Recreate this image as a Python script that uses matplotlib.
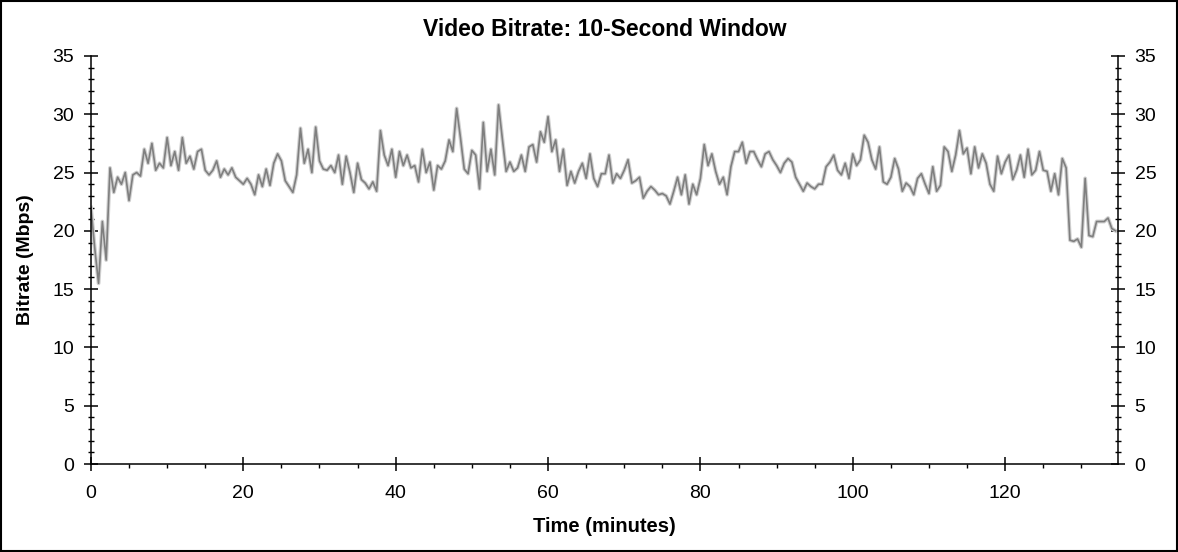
import numpy as np
import matplotlib.pyplot as plt
from matplotlib.patches import Rectangle
from matplotlib.ticker import MultipleLocator

plt.rcParams['font.family'] = ['Liberation Sans', 'DejaVu Sans']

# bitrate in Mbps, one reading every half minute
STEP_MIN = 0.5
bitrate = [
    22.0, 18.5, 15.5, 20.8, 17.5, 25.4, 23.3, 24.6, 24.0, 25.0,
    22.6, 24.8, 25.0, 24.7, 27.0, 25.8, 27.5, 25.2, 25.8, 25.4,
    28.0, 25.6, 26.8, 25.2, 28.0, 25.8, 26.4, 25.3, 26.8, 27.0,
    25.2, 24.8, 25.2, 26.0, 24.6, 25.3, 24.8, 25.4, 24.6, 24.3,
    24.0, 24.5, 24.0, 23.1, 24.8, 23.8, 25.3, 23.9, 25.8, 26.6,
    26.0, 24.3, 23.8, 23.3, 24.8, 28.8, 25.8, 27.0, 25.0, 28.9,
    26.0, 25.3, 25.2, 25.6, 25.0, 26.5, 24.0, 26.4, 25.0, 23.3,
    25.8, 24.4, 24.1, 23.6, 24.2, 23.4, 28.6, 26.5, 25.6, 27.0,
    24.6, 26.8, 25.6, 26.5, 25.4, 25.6, 24.2, 27.0, 25.0, 25.9,
    23.5, 25.6, 25.3, 26.0, 27.8, 26.8, 30.5, 28.0, 25.3, 24.9,
    26.9, 26.5, 23.6, 29.3, 25.1, 27.0, 24.8, 30.8, 27.9, 25.1,
    25.9, 25.1, 25.4, 26.5, 25.1, 27.2, 27.4, 25.9, 28.5, 27.6,
    29.8, 26.8, 27.8, 25.1, 27.0, 23.9, 25.1, 24.1, 25.1, 25.8,
    24.5, 26.6, 24.5, 23.8, 24.9, 24.9, 26.5, 24.1, 24.9, 24.5,
    25.2, 26.1, 24.1, 24.3, 24.6, 22.8, 23.4, 23.8, 23.5, 23.1,
    23.2, 23.0, 22.3, 23.4, 24.6, 23.1, 24.8, 22.3, 24.0, 23.1,
    24.5, 27.4, 25.6, 26.6, 25.1, 24.0, 24.6, 23.1, 25.5, 26.8,
    26.8, 27.6, 25.8, 26.8, 26.8, 26.1, 25.5, 26.6, 26.8, 26.1,
    25.6, 25.0, 25.8, 26.2, 25.9, 24.6, 24.0, 23.4, 24.1, 23.8,
    23.6, 24.0, 24.0, 25.5, 25.9, 26.5, 25.2, 24.8, 25.8, 24.5,
    26.6, 25.6, 26.1, 28.2, 27.6, 26.1, 25.3, 27.2, 24.2, 24.0,
    24.6, 26.2, 25.3, 23.4, 24.1, 23.8, 23.1, 24.5, 24.9, 24.0,
    23.2, 25.5, 23.4, 23.9, 27.2, 26.8, 25.1, 26.5, 28.6, 26.6,
    27.1, 24.9, 27.2, 25.4, 26.6, 25.8, 24.0, 23.4, 26.4, 24.9,
    25.9, 26.5, 24.4, 25.2, 26.5, 24.6, 27.0, 24.8, 25.2, 26.8,
    25.2, 25.1, 23.4, 24.9, 23.1, 26.2, 25.4, 19.2, 19.1, 19.3,
    18.6, 24.5, 19.6, 19.5, 20.8, 20.8, 20.8, 21.1, 20.2, 20.0,
]
minutes = np.arange(len(bitrate)) * STEP_MIN

fig = plt.figure(figsize=(11.78, 5.52), dpi=100)
ax = fig.add_axes([0.0772, 0.1594, 0.8718, 0.7392])

ax.plot(minutes, bitrate, color='#d0d0d0', lw=2.8)
ax.plot(minutes, bitrate, color='#7f7f7f', lw=1.2)

ax.set_xlim(0, 134.8)
ax.set_ylim(0, 35)
ax.xaxis.set_major_locator(MultipleLocator(20))
ax.xaxis.set_minor_locator(MultipleLocator(5))
ax.yaxis.set_major_locator(MultipleLocator(5))
ax.yaxis.set_minor_locator(MultipleLocator(1))

ax.spines['top'].set_visible(False)
for s in ('left', 'right', 'bottom'):
    ax.spines[s].set_linewidth(1.1)

ax.tick_params(axis='y', which='major', direction='inout', length=10, width=1.1,
               left=True, right=True, labelleft=True, labelright=True,
               labelsize=14, pad=7)
ax.tick_params(axis='y', which='minor', direction='inout', length=4.5, width=1.0,
               left=True, right=True)
ax.tick_params(axis='x', which='major', direction='inout', length=10, width=1.1,
               labelsize=14, pad=10)
ax.tick_params(axis='x', which='minor', direction='out', length=3, width=1.0)

ax.set_title('Video Bitrate: 10-Second Window', fontsize=16.5, fontweight='bold', pad=14.5)
ax.set_xlabel('Time (minutes)', fontsize=14.5, fontweight='bold', labelpad=11)
ax.set_ylabel('Bitrate (Mbps)', fontsize=14, fontweight='bold', labelpad=13)

fig.patches.append(Rectangle((0.001, 0.002), 0.998, 0.996, transform=fig.transFigure,
                             fill=False, edgecolor='black', lw=1.5))

fig.savefig('out.png', dpi=100)
